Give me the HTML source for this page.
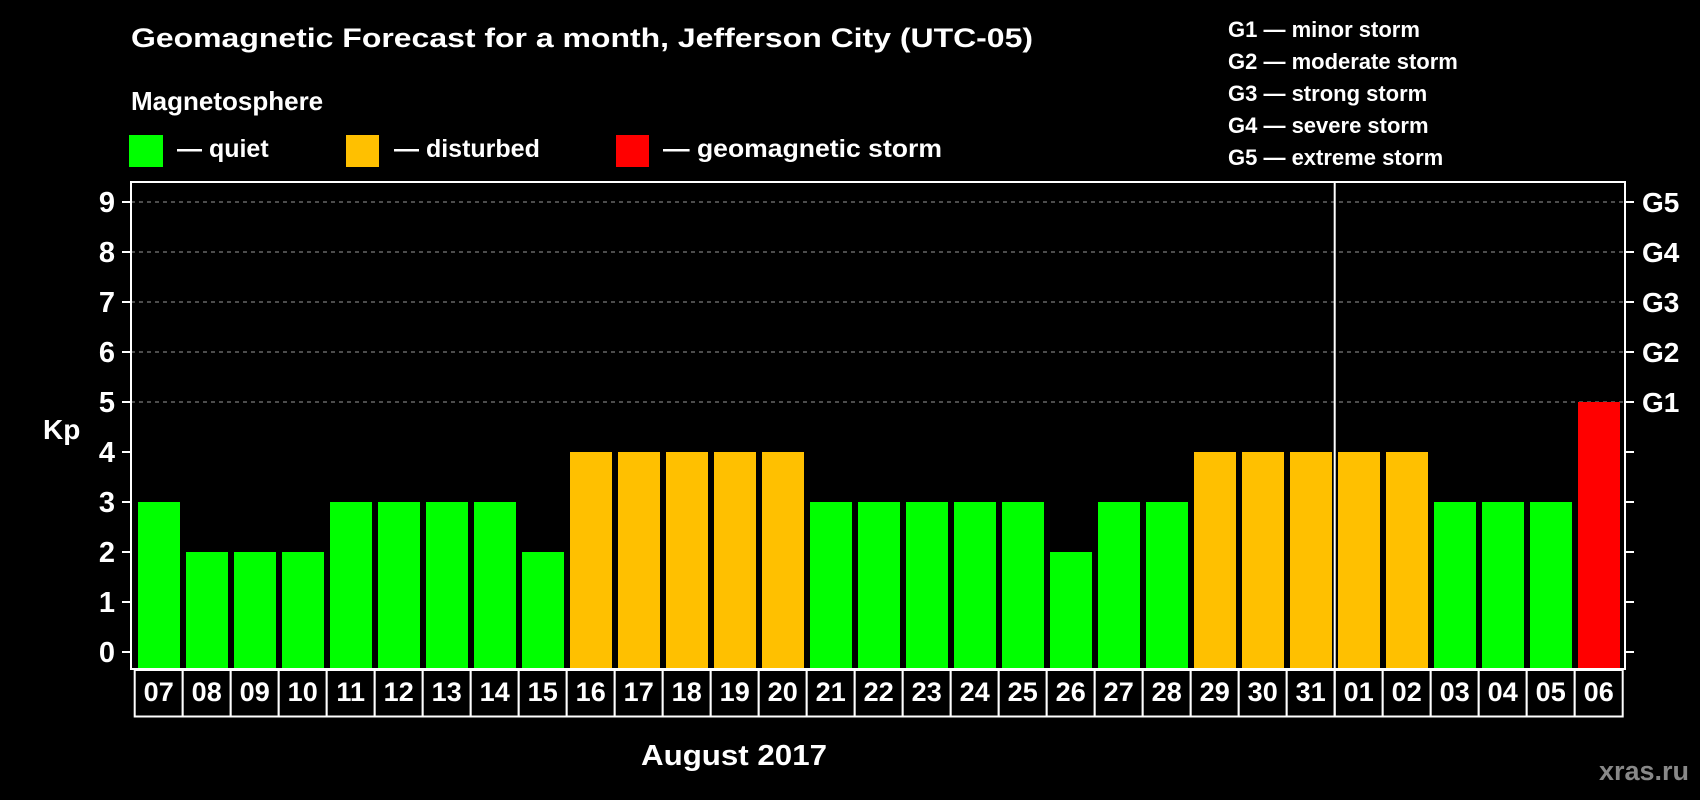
<!DOCTYPE html>
<html><head><meta charset="utf-8"><style>
html,body{margin:0;padding:0;background:#000;}
svg{display:block;font-family:"Liberation Sans",Arial,sans-serif;font-weight:bold;}
</style></head><body>
<svg id="chart" width="1700" height="800" viewBox="0 0 1700 800">
<rect x="0" y="0" width="1700" height="800" fill="#000"/>
<text x="131" y="47" fill="#fff" font-size="27" textLength="902" lengthAdjust="spacingAndGlyphs">Geomagnetic Forecast for a month, Jefferson City (UTC-05)</text>
<text x="131" y="110" fill="#fff" font-size="26">Magnetosphere</text>
<g>
<rect x="129" y="135" width="34" height="32" fill="#00ff00"/>
<text x="177" y="157" fill="#fff" font-size="25">— quiet</text></g>
<g>
<rect x="346" y="135" width="33" height="32" fill="#ffc000"/>
<text x="394" y="157" fill="#fff" font-size="25">— disturbed</text></g>
<g>
<rect x="616" y="135" width="33" height="32" fill="#ff0000"/>
<text x="663" y="157" fill="#fff" font-size="25" textLength="279" lengthAdjust="spacingAndGlyphs">— geomagnetic storm</text></g>
<g fill="#fff" font-size="22">
<text x="1228" y="37">G1 — minor storm</text>
<text x="1228" y="69">G2 — moderate storm</text>
<text x="1228" y="101">G3 — strong storm</text>
<text x="1228" y="133">G4 — severe storm</text>
<text x="1228" y="165">G5 — extreme storm</text>
</g>
<text x="43" y="439" fill="#fff" font-size="28">Kp</text>
<text x="641" y="765" fill="#fff" font-size="29" textLength="186" lengthAdjust="spacingAndGlyphs">August 2017</text>
<text x="1689" y="780" fill="#888" font-size="27" text-anchor="end">xras.ru</text>
<g id="plot"></g>
</svg>
<script>
const days = ["07","08","09","10","11","12","13","14","15","16","17","18","19","20","21","22","23","24","25","26","27","28","29","30","31","01","02","03","04","05","06"];
const kpValues = [3,2,2,2,3,3,3,3,2,4,4,4,4,4,3,3,3,3,3,2,3,3,4,4,4,4,4,3,3,3,5];
const yTicks = [0,1,2,3,4,5,6,7,8,9];
const gLabels = ["G1","G2","G3","G4","G5"];
const gLevels = [5,6,7,8,9];
const monthBreakIndex = 25;

const NS = "http://www.w3.org/2000/svg";
const plot = document.getElementById("plot");
const pLeft = 131, pRight = 1625, pTop = 182, pBottom = 669;
const x0 = 134.7, pitch = 48;
function yScale(v){ return 652 - 50 * v; }
function xBand(i){ return x0 + i * pitch; }
function mk(tag, attrs){ const e = document.createElementNS(NS, tag); for (const k in attrs) e.setAttribute(k, attrs[k]); plot.appendChild(e); return e; }
function color(v){ return v >= 5 ? "#ff0000" : (v >= 4 ? "#ffc000" : "#00ff00"); }

gLevels.forEach((g) => {
  const l = mk("line", {x1:pLeft, x2:pRight, y1:yScale(g), y2:yScale(g), stroke:"#999", "stroke-width":1, "stroke-dasharray":"4 4"});
  
  
});

kpValues.forEach((v, i) => {
  const r = mk("rect", {x:xBand(i) + 3.3, y:yScale(v), width:42, height:668 - yScale(v), fill:color(v)});
  
  
});

const frame = mk("rect", {x:pLeft, y:pTop, width:pRight-pLeft, height:pBottom-pTop, fill:"none", stroke:"#fff", "stroke-width":2});



yTicks.forEach((t) => {
  const tl = mk("line", {x1:122, x2:pLeft, y1:yScale(t), y2:yScale(t), stroke:"#fff", "stroke-width":2});
  
  
  const tr = mk("line", {x1:pRight, x2:1634, y1:yScale(t), y2:yScale(t), stroke:"#fff", "stroke-width":2});
  
  
  const tx = mk("text", {x:115, y:yScale(t) + 10, fill:"#fff", "font-size":29, "text-anchor":"end"});
  tx.textContent = t;
  
  
});

gLevels.forEach((g, i) => {
  const tx = mk("text", {x:1642, y:yScale(g) + 10, fill:"#fff", "font-size":28});
  tx.textContent = gLabels[i];
  
  
});

days.forEach((d, i) => {
  const b = mk("rect", {x:xBand(i), y:670, width:pitch, height:46.5, fill:"#000", stroke:"#fff", "stroke-width":2});
  
  
  const tx = mk("text", {x:xBand(i) + pitch/2, y:701, fill:"#fff", "font-size":27, "text-anchor":"middle"});
  tx.textContent = d;
  
  
});

const sep = mk("line", {x1:xBand(monthBreakIndex), x2:xBand(monthBreakIndex), y1:pTop, y2:717, stroke:"#fff", "stroke-width":2});


</script>
</body></html>
